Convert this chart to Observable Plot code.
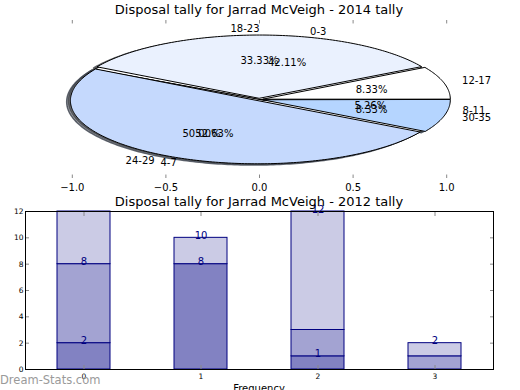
<!DOCTYPE html>
<html><head><meta charset="utf-8">
<script src="https://cdn.jsdelivr.net/npm/d3@7"></script>
<script src="https://cdn.jsdelivr.net/npm/@observablehq/plot@0.6"></script>
<style>
body{margin:0;width:520px;height:390px;position:relative;overflow:hidden;background:#fff;font-family:"DejaVu Sans",sans-serif;}
.abs{position:absolute;}
.title{position:absolute;left:0;width:518px;text-align:center;font-size:13px;line-height:15px;color:#000;white-space:nowrap;}
svg{overflow:visible;}
</style></head><body>
<div id="pie" class="abs" style="left:0;top:0"></div>
<div id="bar" class="abs" style="left:0;top:192px"></div>
<div class="title" style="top:2px">Disposal tally for Jarrad McVeigh - 2014 tally</div>
<div class="title" style="top:194px">Disposal tally for Jarrad McVeigh - 2012 tally</div>
<div class="abs" style="left:0;top:383px;width:518px;text-align:center;font-size:10px;line-height:12px;">Frequency</div>
<div class="abs" style="left:0;top:373px;font-size:11.5px;line-height:14px;color:#9a9a9a;">Dream-Stats.com</div>
<script>
// ---- 2014 pies (two overlaid pies) ----
const pieA_labels = ["0-3", "4-7", "8-11"];
const pieA_values = [8, 10, 1];
const pieB_labels = ["12-17", "18-23", "24-29", "30-35"];
const pieB_values = [1, 4, 6, 1];
const pieA_colors = ["#ffffff", "#ffffff", "#ffffff"];
const pieB_colors = ["#ffffff", "#eaf1fe", "#c5d9fd", "#b5d5ff"];
const pieTicks = [-1, -0.5, 0, 0.5, 1];

// ---- 2012 stacked bars ----
const barCategories = [0, 1, 2, 3];
const seriesNames = ["s1", "s2", "s3"];
const series1 = [2, 8, 1, 0];
const series2 = [6, 0, 2, 1];
const series3 = [4, 2, 9, 1];
const seriesColors = ["#8282c2", "#a3a3d2", "#cbcbe5"];
const labelCats = [0, 0, 1, 1, 2, 2, 3];
const labelValues = [2, 8, 8, 10, 1, 12, 2];
const yTicks = [0, 2, 4, 6, 8, 10, 12];

function pieGeom(labels, values, colors, explode) {
  const total = d3.sum(values);
  let a0 = 0;
  return labels.map((lab, i) => {
    const a1 = a0 + 360 * values[i] / total;
    const mid = (a0 + a1) / 2 * Math.PI / 180;
    const ox = explode * Math.cos(mid), oy = explode * Math.sin(mid);
    const pts = [{x: ox, y: oy}];
    const n = Math.max(2, Math.ceil(a1 - a0));
    for (let k = 0; k <= n; k++) {
      const t = (a0 + (a1 - a0) * k / n) * Math.PI / 180;
      pts.push({x: ox + Math.cos(t), y: oy + Math.sin(t)});
    }
    const c = Math.cos(mid), s = Math.sin(mid);
    const w = {label: lab, pct: (100 * values[i] / total).toFixed(2) + "%", color: colors[i], pts,
      lx: ox + 1.1 * c, ly: oy + 1.1 * s, px: ox + 0.6 * c, py: oy + 0.6 * s,
      anchor: c > 1e-9 ? "start" : "end"};
    a0 = a1;
    return w;
  });
}
const wA = pieGeom(pieA_labels, pieA_values, pieA_colors, 0);
const wB = pieGeom(pieB_labels, pieB_values, pieB_colors, 0.02);
const all = [...wA, ...wB];

const marks = [];
for (const w of all) {
  const sc = d3.color(w.color); const shc = d3.rgb(sc.r * 0.3, sc.g * 0.3, sc.b * 0.3).formatHex();
  marks.push(Plot.line(w.pts.map(p => ({x: p.x - 0.02, y: p.y - 0.02})), {x: "x", y: "y", curve: "linear-closed", fill: shc, fillOpacity: 0.5, stroke: shc, strokeOpacity: 0.8, strokeWidth: 1.5}));
}
for (const w of all) {
  marks.push(Plot.line(w.pts, {x: "x", y: "y", curve: "linear-closed", fill: w.color, stroke: "black", strokeWidth: 1}));
}
marks.push(Plot.text(all, {x: "px", y: "py", text: "pct", fill: "black", fontSize: 10}));
marks.push(Plot.text(all.filter(d => d.anchor === "start"), {x: "lx", y: "ly", text: "label", textAnchor: "start", fill: "black", fontSize: 10}));
marks.push(Plot.text(all.filter(d => d.anchor === "end"), {x: "lx", y: "ly", text: "label", textAnchor: "end", fill: "black", fontSize: 10}));
marks.push(Plot.ruleX(pieTicks, {x: d => d, y1: 1.25, y2: 1.195, stroke: "#888"}));
marks.push(Plot.ruleX(pieTicks, {x: d => d, y1: -1.25, y2: -1.195, stroke: "#888"}));

const pie = Plot.plot({
  width: 520, height: 192,
  marginLeft: 25, marginRight: 27, marginTop: 20, marginBottom: 14,
  style: {fontFamily: "DejaVu Sans", fontSize: "10px", background: "transparent", color: "black"},
  x: {domain: [-1.25, 1.25], ticks: pieTicks, tickFormat: d3.format(".1f"), tickSize: 0, tickPadding: 5, label: null},
  y: {domain: [-1.25, 1.25], axis: null},
  marks
});
document.getElementById("pie").appendChild(pie);

// bar data
const barData = [];
const seriesVals = [series1, series2, series3];
seriesNames.forEach((s, si) => barCategories.forEach((c, ci) => {
  if (seriesVals[si][ci] > 0) barData.push({cat: c, series: s, value: seriesVals[si][ci]});
}));
const labelData = labelCats.map((c, i) => ({cat: c, value: labelValues[i], text: String(labelValues[i])}));

const bar = Plot.plot({
  width: 520, height: 198,
  marginLeft: 25, marginRight: 27, marginTop: 19, marginBottom: 21,
  style: {fontFamily: "DejaVu Sans", fontSize: "7.5px", background: "transparent", color: "black"},
  x: {type: "band", domain: barCategories, paddingInner: 0.55, paddingOuter: 0.275, axis: null},
  y: {domain: [0, 12], axis: null},
  color: {domain: seriesNames, range: seriesColors},
  marks: [
    Plot.barY(barData, {x: "cat", y: "value", fill: "series", stroke: "#000080", strokeWidth: 1}),
    Plot.axisX({anchor: "bottom", tickSize: 0, tickPadding: 4, label: null}),
    Plot.axisX({anchor: "bottom", tickSize: -4, text: null, stroke: "#888", label: null}),
    Plot.axisX({anchor: "top", tickSize: -4, text: null, stroke: "#888", label: null}),
    Plot.axisY({anchor: "left", ticks: yTicks, tickSize: 0, tickPadding: 2, label: null}),
    Plot.axisY({anchor: "left", ticks: yTicks, tickSize: -4, text: null, stroke: "#888", label: null}),
    Plot.axisY({anchor: "right", ticks: yTicks, tickSize: -4, text: null, stroke: "#888", label: null}),
    Plot.frame({stroke: "black"}),
    Plot.text(labelData, {x: "cat", y: "value", text: "text", lineAnchor: "bottom", fill: "#000080", fontSize: 10, dy: 1})
  ]
});
document.getElementById("bar").appendChild(bar);
</script>
</body></html>
